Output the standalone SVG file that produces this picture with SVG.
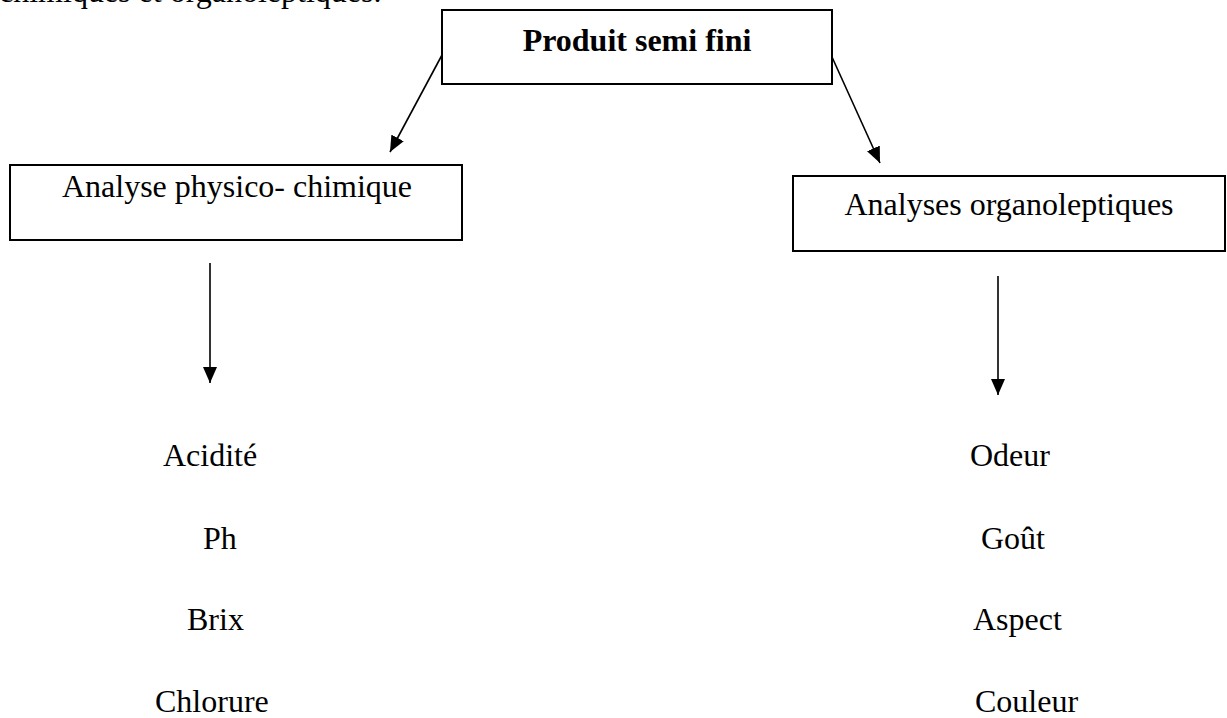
<svg xmlns="http://www.w3.org/2000/svg" width="1227" height="718" viewBox="0 0 1227 718">
<style>
  .box { fill: #ffffff; stroke: #000000; stroke-width: 2; }
  .t { font-family: "Liberation Serif", "Times New Roman", serif; font-size: 32px; fill: #000000; }
  .b { font-weight: bold; }
  .conn { stroke: #000000; stroke-width: 1.6; fill: none; marker-end: url(#ah); }
</style>
<defs>
  <marker id="ah" markerUnits="userSpaceOnUse" markerWidth="16" markerHeight="14" viewBox="0 0 16 14" refX="16" refY="7" orient="auto">
    <path d="M0,0 L16,7 L0,14 Z" fill="#000000"/>
  </marker>
</defs>
<rect width="1227" height="718" fill="#ffffff"/>
<text class="t" x="-1" y="2">chimiques et organoleptiques.</text>
<g id="produit">
  <rect class="box" x="442" y="10" width="390" height="74"/>
  <text class="t b" x="637" y="51" text-anchor="middle">Produit semi fini</text>
</g>
<g id="physico">
  <rect class="box" x="10" y="165" width="452" height="75"/>
  <text class="t" x="237" y="197" text-anchor="middle">Analyse physico- chimique</text>
</g>
<g id="organo">
  <rect class="box" x="793" y="176" width="432" height="75"/>
  <text class="t" x="1009" y="215" text-anchor="middle">Analyses organoleptiques</text>
</g>
<g id="list-physico">
  <text class="t" x="163" y="466">Acidité</text>
  <text class="t" x="203" y="549">Ph</text>
  <text class="t" x="187" y="630">Brix</text>
  <text class="t" x="155" y="712">Chlorure</text>
</g>
<g id="list-organo">
  <text class="t" x="970" y="466">Odeur</text>
  <text class="t" x="981" y="549">Goût</text>
  <text class="t" x="973" y="630">Aspect</text>
  <text class="t" x="975" y="712">Couleur</text>
</g>
<g id="connectors">
  <line class="conn" x1="442" y1="55" x2="390" y2="152"/>
  <line class="conn" x1="832" y1="57" x2="880" y2="163"/>
  <line class="conn" x1="210" y1="263" x2="210" y2="383"/>
  <line class="conn" x1="998" y1="276" x2="998" y2="395"/>
</g>
</svg>
